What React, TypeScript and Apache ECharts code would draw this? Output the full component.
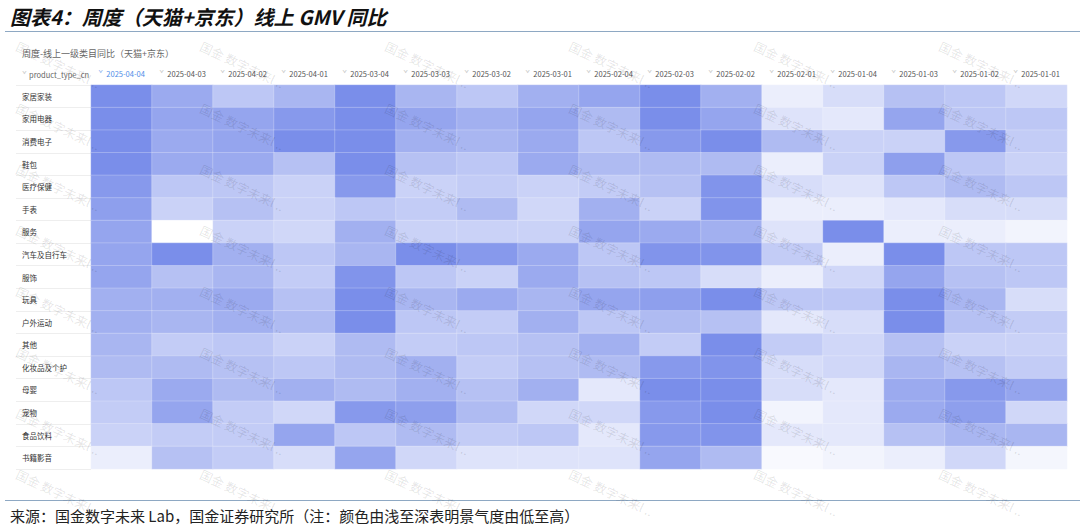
import React, { useEffect, useRef } from 'react';
import * as echarts from 'echarts';

const dates = [
  '2025-04-04', '2025-04-03', '2025-04-02', '2025-04-01',
  '2025-03-04', '2025-03-03', '2025-03-02', '2025-03-01',
  '2025-02-04', '2025-02-03', '2025-02-02', '2025-02-01',
  '2025-01-04', '2025-01-03', '2025-01-02', '2025-01-01',
];

const categories = [
  '家居家装', '家用电器', '消费电子', '鞋包', '医疗保健', '手表', '服务', '汽车及自行车',
  '服饰', '玩具', '户外运动', '其他', '化妆品及个护', '母婴', '宠物', '食品饮料', '书籍影音',
];

// 景气度 (0 = lowest / lightest, 10 = highest / darkest), one array per category
const homeFurnishing = [10, 7.5, 5, 6.5, 10, 6.5, 5, 7, 8, 10, 7, 1.5, 3, 5.5, 5, 3.5];
const homeAppliances = [10, 8, 8, 9, 10, 8, 7, 8, 6, 10, 8, 2.5, 2, 8, 5, 5];
const consumerElectronics = [10, 7.5, 8, 10, 10, 7, 6.5, 7.5, 5, 9, 10, 6, 4, 4, 9, 4.5];
const shoesBags = [10, 7.5, 7.5, 5.5, 10, 5.5, 5, 7.5, 6, 6, 6, 1.5, 4, 8.5, 5, 4];
const healthcare = [9, 5, 5, 4, 9, 4, 4.5, 4, 4.5, 5.5, 9.5, 3, 2.5, 5, 6, 5];
const watches = [8.5, 4, 5.5, 4, 5, 4.5, 6, 3.5, 7, 4, 9.5, 1.5, 1.5, 2, 3, 3];
const services = [8, 0, 4, 3.5, 7, 4, 4, 4, 8, 7.5, 7, 2.5, 10, 1.5, 1.5, 1];
const vehicles = [8, 10, 7, 5, 6.5, 10, 9, 7.5, 5, 9.5, 9.5, 4.5, 1.5, 10, 5, 5];
const apparel = [8, 5.5, 6.5, 4.5, 9.5, 5, 4, 7.5, 5.5, 5, 3, 1.5, 3.5, 8, 5.5, 5];
const toys = [7, 7, 7.5, 5.5, 10, 6.5, 7.5, 6.5, 8, 8.5, 10, 5, 5, 10, 6.5, 3];
const outdoorSports = [7, 6.5, 7, 6, 10, 5, 4.5, 7, 5, 6, 5.5, 2, 3, 10, 5.5, 4.5];
const others = [6.5, 4.5, 5, 4, 6, 4.5, 5, 5.5, 7, 4.5, 10, 4.5, 3.5, 5.5, 4, 4];
const cosmetics = [6, 6, 5.5, 5, 6, 7, 4.5, 5.5, 6, 9, 9.5, 3, 3.5, 6.5, 5.5, 4.5];
const motherBaby = [5, 7.5, 6, 7, 6, 7, 5.5, 7, 2, 10, 10, 3, 2, 7.5, 9, 8];
const pets = [4.5, 8, 4.5, 3.5, 9, 8.5, 6, 3.5, 3.5, 9, 10, 1, 2, 7.5, 8.5, 3.5];
const foodBeverage = [4, 4.5, 4.5, 8, 5, 6, 4.5, 5, 2, 9, 9.5, 2, 2, 5.5, 6.5, 6.5];
const booksMedia = [1.5, 5.5, 4.5, 3, 8, 3.5, 2.5, 2.5, 2.5, 8, 6, 0.5, 1, 1.5, 3.5, 0.8];

const rows = [
  homeFurnishing, homeAppliances, consumerElectronics, shoesBags, healthcare, watches,
  services, vehicles, apparel, toys, outdoorSports, others, cosmetics, motherBaby, pets,
  foodBeverage, booksMedia,
];

const titleText = '图表4：周度（天猫+京东）线上 GMV 同比';
const subtitleText = '周度-线上一级类目同比（天猫+京东）';
const headerText = 'product_type_cn';
const footerText = '来源：国金数字未来 Lab，国金证券研究所（注：颜色由浅至深表明景气度由低至高）';
const watermarkText = '国金 数字未来l ..';

export default function App() {
  const ref = useRef<HTMLDivElement>(null);

  useEffect(() => {
    const chart = echarts.init(ref.current as HTMLDivElement, null, { renderer: 'svg' });
    const data: number[][] = [];
    rows.forEach((r, yi) => r.forEach((v, xi) => data.push([xi, yi, v])));

    const cjk = '"Noto Sans CJK SC", "Noto Sans", sans-serif';

    const watermarks: any[] = [];
    const wmX = [17, 201, 386, 570, 755, 940];
    const wmY = [45, 107, 168, 229, 290, 351, 412, 473];
    wmX.forEach((x) =>
      wmY.forEach((y) =>
        watermarks.push({
          type: 'text',
          x,
          y,
          rotation: -0.44,
          z: 100,
          silent: true,
          style: {
            text: watermarkText,
            fontSize: 12.5,
            fontFamily: cjk,
            fill: 'rgba(0,0,0,0.11)',
            textVerticalAlign: 'middle',
          },
        })
      )
    );

    chart.setOption({
      animation: false,
      backgroundColor: '#ffffff',
      grid: { left: 91, right: 18, top: 85, bottom: 59 },
      xAxis: {
        type: 'category',
        position: 'top',
        data: dates,
        axisLine: { show: false },
        axisTick: { show: false },
        splitLine: { show: false },
        axisLabel: {
          margin: 6,
          interval: 0,
          formatter: (v: string, i: number) =>
            i === 0 ? `{cb|ˇ} {b|${v}}` : `{c|ˇ} {n|${v}}`,
          rich: {
            c: { color: '#c8c8c8', fontSize: 8, fontFamily: cjk },
            cb: { color: '#8fb3ef', fontSize: 8, fontFamily: cjk },
            n: { color: '#555555', fontSize: 7.5, fontFamily: cjk },
            b: { color: '#4f8de8', fontSize: 7.5, fontFamily: cjk },
          },
        },
      },
      yAxis: {
        type: 'category',
        data: categories,
        inverse: true,
        axisLine: { show: false },
        axisTick: { show: true, length: 75, lineStyle: { color: '#eeeeee', width: 1 } },
        splitLine: { show: false },
        axisLabel: {
          align: 'left',
          margin: 69,
          fontSize: 7.5,
          color: '#333333',
          fontFamily: cjk,
        },
      },
      visualMap: {
        show: false,
        min: 0,
        max: 10,
        dimension: 2,
        inRange: { color: ['#ffffff', '#7a8eea'] },
      },
      series: [
        {
          type: 'heatmap',
          data,
          itemStyle: { borderColor: 'rgba(255,255,255,0.4)', borderWidth: 0.6 },
          emphasis: { disabled: true },
        },
      ],
      graphic: [
        {
          type: 'text',
          left: 10,
          top: 6,
          style: {
            text: titleText,
            fontSize: 20,
            fontWeight: 'bold',
            fontStyle: 'italic',
            fontFamily: cjk,
            fill: '#111111',
          },
        },
        {
          type: 'line',
          shape: { x1: 5, y1: 31.5, x2: 1080, y2: 31.5 },
          style: { stroke: '#8ea8c3', lineWidth: 1 },
        },
        {
          type: 'text',
          x: 22,
          y: 53,
          style: {
            text: subtitleText,
            fontSize: 9,
            fontFamily: cjk,
            fill: '#666666',
            textVerticalAlign: 'middle',
          },
        },
        {
          type: 'text',
          x: 22,
          y: 74,
          style: {
            text: 'ˇ',
            fontSize: 8,
            fontFamily: cjk,
            fill: '#c8c8c8',
            textVerticalAlign: 'middle',
          },
        },
        {
          type: 'text',
          x: 29,
          y: 74,
          style: {
            text: headerText,
            fontSize: 7.5,
            fontFamily: cjk,
            fill: '#666666',
            textVerticalAlign: 'middle',
          },
        },
        {
          type: 'line',
          shape: { x1: 5, y1: 500.5, x2: 1080, y2: 500.5 },
          style: { stroke: '#8ea8c3', lineWidth: 1 },
        },
        {
          type: 'text',
          x: 10,
          y: 515,
          style: {
            text: footerText,
            fontSize: 15,
            fontFamily: cjk,
            fill: '#222222',
            textVerticalAlign: 'middle',
          },
        },
        ...watermarks,
      ],
    });

    return () => chart.dispose();
  }, []);

  return (
    <div
      ref={ref}
      style={{ position: 'absolute', left: 0, top: 0, width: 1085, height: 528 }}
    />
  );
}
